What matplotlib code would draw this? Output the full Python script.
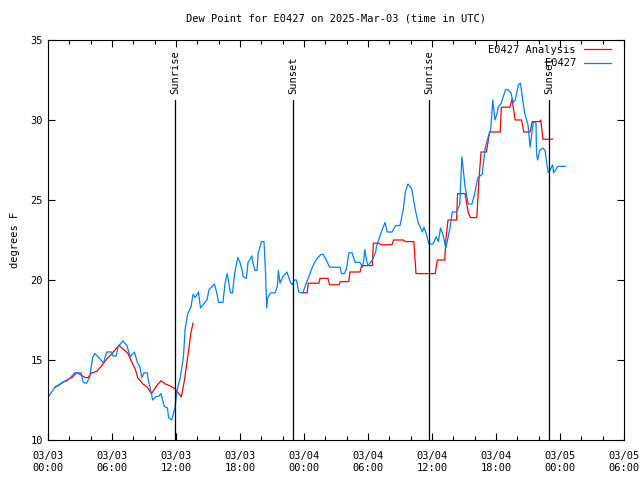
import numpy as np
import matplotlib
matplotlib.use("Agg")
import matplotlib.pyplot as plt
from matplotlib.ticker import MultipleLocator

# Observations (hours since 03/03 00:00 UTC, dew point F)
obs_hours = [0.1, 0.66, 1.0, 1.3, 1.8, 2.1, 2.5, 3.1, 3.3, 3.6, 3.9, 4.2, 4.4, 4.7, 5.2, 5.5, 6.0, 6.1,
             6.4, 6.6, 6.8, 7.0, 7.4, 7.7, 8.1, 8.4, 8.6, 8.8, 9.0, 9.3, 9.4, 9.7, 9.8, 10.1, 10.4, 10.6,
             10.9, 11.2, 11.3, 11.6, 11.7, 11.9, 12.1, 12.4, 12.7, 12.85, 13.0, 13.1, 13.4, 13.6, 13.8,
             14.1, 14.3, 14.6, 14.9, 15.1, 15.4, 15.6, 15.8, 16.0, 16.4, 16.6, 16.8, 17.1, 17.3, 17.5,
             17.7, 17.8, 18.0, 18.2, 18.3, 18.6, 18.75, 18.9, 19.1, 19.2, 19.4, 19.6, 19.7, 19.9, 20.0,
             20.25, 20.4, 20.5, 20.6, 20.9, 21.3, 21.5, 21.6, 21.75, 22.0, 22.4, 22.7, 22.9, 23.1, 23.3,
             23.5, 23.9, 24.1, 24.4, 24.75, 25.0, 25.3, 25.6, 25.8, 26.2, 26.4, 27.4, 27.5, 27.8, 28.0,
             28.2, 28.5, 28.8, 29.25, 29.5, 29.6, 29.7, 29.9, 30.0, 30.4, 30.7, 30.8, 31.1, 31.3, 31.6,
             31.8, 32.25, 32.6, 33.0, 33.3, 33.5, 33.75, 34.1, 34.4, 34.7, 35.1, 35.25, 35.5, 35.7, 36.1,
             36.4, 36.6, 36.8, 37.0, 37.3, 37.7, 37.9, 38.3, 38.6, 38.8, 38.9, 39.1, 39.4, 39.75, 40.0,
             40.3, 40.7, 41.0, 41.25, 41.5, 41.7, 41.9, 42.1, 42.2, 42.5, 42.65, 42.9, 43.1, 43.4, 43.6,
             43.8, 44.1, 44.3, 44.5, 44.7, 45.0, 45.2, 45.4, 45.5, 45.75, 45.8, 45.9, 46.1, 46.4, 46.6,
             46.8, 46.9, 47.1, 47.3, 47.4, 47.6, 47.8, 48.5]
obs_dewpt = [12.75, 13.3, 13.4, 13.6, 13.7, 13.9, 14.2, 14.2, 13.6, 13.55, 13.9, 15.2, 15.4, 15.2, 14.8, 15.5,
             15.5, 15.25, 15.25, 15.9, 16.0, 16.2, 15.9, 15.2, 15.5, 14.8, 14.6, 13.9, 14.2, 14.2, 13.75,
             12.9, 12.5, 12.7, 12.75, 12.9, 12.1, 12.0, 11.4, 11.25, 11.5, 12.0, 13.1, 13.9, 15.2, 16.9,
             17.5, 17.9, 18.3, 19.1, 18.9, 19.25, 18.25, 18.5, 18.75, 19.4, 19.6, 19.75, 19.25, 18.6, 18.6,
             19.8, 20.4, 19.2, 19.2, 20.4, 21.1, 21.4, 21.1, 20.6, 20.2, 20.1, 21.1, 21.25, 21.5, 21.1,
             20.6, 20.6, 21.7, 22.1, 22.4, 22.4, 20.4, 18.25, 18.9, 19.2, 19.2, 19.6, 20.6, 19.8, 20.2,
             20.5, 19.9, 19.7, 20.0, 20.0, 19.25, 19.2, 19.6, 20.1, 20.75, 21.1, 21.4, 21.6, 21.6, 21.1,
             20.8, 20.8, 20.4, 20.4, 20.75, 21.7, 21.7, 21.1, 21.1, 20.8, 21.25, 21.9, 21.1, 20.9, 21.25,
             21.7, 22.1, 22.7, 23.1, 23.6, 23.0, 23.0, 23.4, 23.4, 24.4, 25.5, 26.0, 25.7, 24.5, 23.6,
             23.0, 23.3, 22.8, 22.25, 22.25, 22.7, 22.4, 23.25, 22.9, 22.0, 23.3, 24.25, 24.25, 24.7,
             27.7, 27.1, 25.8, 24.75, 24.75, 25.4, 26.4, 26.6, 28.3, 28.9, 29.4, 31.25, 30.0, 30.4, 30.8,
             31.06, 31.4, 31.9, 31.9, 31.7, 31.1, 31.25, 32.2, 32.3, 31.25, 30.4, 29.7, 28.3, 29.4, 29.9,
             29.8, 27.9, 27.5, 28.1, 28.25, 28.1, 27.1, 26.7, 26.9, 27.2, 26.7, 26.9, 27.1, 27.1]

# Analysis (NaN marks the gap)
ana_hours = [0.66, 1.4, 1.9, 2.25, 2.7, 3.0, 3.5, 3.75, 4.1, 4.6, 5.1, 5.5, 6.0, 6.5, 6.7, 6.9, 7.2, 7.5,
             7.9, 8.2, 8.4, 8.6, 8.9, 9.3, 9.7, 10.2, 10.6, 11.0, 11.4, 11.9, 12.5, 12.8, 13.1, 13.4, 13.6,
             18.0,
             23.8, 24.3, 24.4, 25.4, 25.5, 26.25, 26.4, 27.3, 27.4, 28.2, 28.3, 29.25, 29.4, 30.4, 30.5,
             31.0, 31.2, 32.25, 32.4, 33.3, 33.5, 34.3, 34.5, 36.3, 36.5, 37.2, 37.3, 37.5, 38.3, 38.4,
             39.1, 39.4, 39.6, 40.2, 40.4, 40.6, 41.1, 41.4, 42.4, 42.5, 43.3, 43.5, 43.8, 44.4, 44.6,
             45.2, 45.4, 46.1, 46.2, 46.4, 47.3]
ana_dewpt = [13.3, 13.6, 13.8, 13.9, 14.2, 14.1, 13.9, 13.9, 14.2, 14.3, 14.7, 15.06, 15.4, 15.8, 15.9,
             15.75, 15.6, 15.4, 14.8, 14.4, 13.9, 13.75, 13.5, 13.3, 12.9, 13.4, 13.7, 13.5, 13.4, 13.2,
             12.7, 13.75, 15.2, 16.7, 17.3,
             np.nan,
             19.2, 19.2, 19.8, 19.8, 20.1, 20.1, 19.7, 19.7, 19.9, 19.9, 20.5, 20.5, 20.9, 20.9, 22.3,
             22.3, 22.2, 22.2, 22.5, 22.5, 22.4, 22.4, 20.4, 20.4, 21.25, 21.25, 22.5, 23.75, 23.75, 25.4,
             25.4, 24.2, 23.9, 23.9, 26.25, 28.0, 28.0, 29.25, 29.25, 30.8, 30.8, 31.3, 30.0, 30.0, 29.25,
             29.25, 29.9, 29.9, 30.0, 28.8, 28.8]

sun_hours = [11.9, 22.97, 35.72, 46.97]
sun_labels = ["Sunrise", "Sunset", "Sunrise", "Sunset"]

tick_hours = list(range(0, 55, 6))
tick_labels = ["03/03\n00:00", "03/03\n06:00", "03/03\n12:00", "03/03\n18:00",
               "03/04\n00:00", "03/04\n06:00", "03/04\n12:00", "03/04\n18:00",
               "03/05\n00:00", "03/05\n06:00"]

plt.rcParams['font.family'] = ['DejaVu Sans Mono']
fs = 7.5

fig = plt.figure(figsize=(6.4, 4.8), dpi=100)
ax = fig.add_axes([48/640, 40/480, 576/640, 400/480])

ax.plot(ana_hours, ana_dewpt, color='#ff0000', lw=0.9, label='E0427 Analysis')
ax.plot(obs_hours, obs_dewpt, color='#0080ff', lw=0.9, label='E0427')

for h, lab in zip(sun_hours, sun_labels):
    ax.axvline(h, ymin=0, ymax=(31.25 - 10) / 25, color='black', lw=0.9)
    ax.text(h, 31.6, lab, rotation=90, ha='center', va='bottom', fontsize=fs)

ax.set_xlim(0, 54)
ax.set_ylim(10, 35)
ax.set_xticks(tick_hours)
ax.set_xticklabels(tick_labels, fontsize=fs)
ax.xaxis.set_minor_locator(MultipleLocator(2))
ax.set_yticks([10, 15, 20, 25, 30, 35])
ax.set_yticklabels(["10", "15", "20", "25", "30", "35"], fontsize=fs)
ax.tick_params(which='both', direction='in', top=True, right=True, length=5, width=0.8)
ax.tick_params(which='minor', length=3)
ax.tick_params(axis='x', pad=8)
for s in ax.spines.values():
    s.set_linewidth(0.8)

ax.set_ylabel("degrees F", fontsize=fs, labelpad=8)
ax.set_title("Dew Point for E0427 on 2025-Mar-03 (time in UTC)", fontsize=fs, pad=13)

ax.legend(loc='upper right', bbox_to_anchor=(0.978, 0.988), frameon=False, markerfirst=False,
          fontsize=fs, handlelength=2.6, handletextpad=0.8, borderaxespad=0.0, borderpad=0.0,
          labelspacing=0.35)

fig.savefig("out.png", dpi=100)
